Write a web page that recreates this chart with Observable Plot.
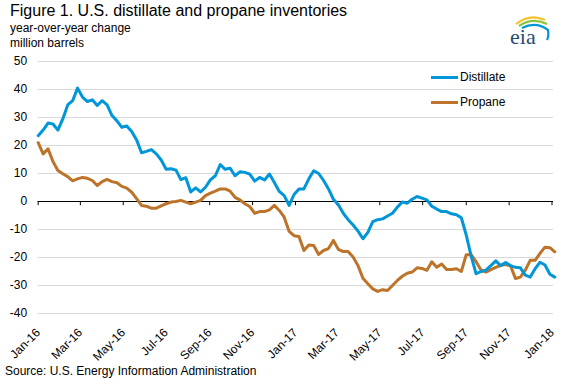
<!DOCTYPE html>
<html>
<head>
<meta charset="utf-8">
<script src="https://cdn.jsdelivr.net/npm/d3@7"></script>
<script src="https://cdn.jsdelivr.net/npm/@observablehq/plot@0.6"></script>
<style>
  html, body { margin: 0; padding: 0; background: #fff; }
  #wrap { position: relative; width: 577px; height: 379px; font-family: "Liberation Sans", Arial, sans-serif; color: #000; overflow: hidden; }
  #chart { position: absolute; left: 0; top: 0; }
  .t { position: absolute; white-space: nowrap; line-height: 1; }
  .sw { position: absolute; height: 3px; }
</style>
</head>
<body>
<div id="wrap">
  <div id="chart"></div>
  <div class="t" style="left:10px; top:2.5px; font-size:16px;">Figure 1. U.S. distillate and propane inventories</div>
  <div class="t" style="left:10px; top:22px; font-size:12px;">year-over-year change</div>
  <div class="t" style="left:10px; top:36.5px; font-size:12px;">million barrels</div>
  <div class="sw" style="left:431px; top:76px; width:27px; background:#0096D7;"></div>
  <div class="t" style="left:460px; top:71px; font-size:12px;">Distillate</div>
  <div class="sw" style="left:431px; top:101px; width:27px; background:#BD732A;"></div>
  <div class="t" style="left:460px; top:96px; font-size:12px;">Propane</div>
  <div class="t" style="left:5px; top:365px; font-size:12px;">Source: U.S. Energy Information Administration</div>
  <svg style="position:absolute; left:502px; top:8px;" width="50" height="40" viewBox="0 0 50 40">
    <path d="M14 16 Q28 5 43 12" fill="none" stroke="#F2C230" stroke-width="2.2"/>
    <path d="M17 18 Q30 9 45 16" fill="none" stroke="#8CC63F" stroke-width="2.2"/>
    <path d="M20 20 Q34 13 46 22 Q47 28 45 32" fill="none" stroke="#0096D7" stroke-width="2.2"/>
    <text x="8" y="36" font-family="Liberation Serif, 'DejaVu Serif', serif" font-size="22" fill="#1F4E79">eia</text>
  </svg>
</div>
<script>
// ---- data ----
const seriesStart = "2016-01-01"; // first weekly observation (week ending Friday)
const distillate = [
  23.5, 25.5, 28, 27.7, 25.5, 29.5, 34.5, 36, 40.5, 37.3,
  35.7, 36.3, 34.3, 36, 34.5, 30.7, 28.8, 26.5, 27, 25,
  22, 17.4, 17.9, 18.5, 17, 14.8, 11.5, 11.7, 11.2, 7.8,
  8.5, 3.4, 4.9, 3.4, 5.1, 7.7, 9.2, 13.2, 11.5, 11.9,
  9.2, 10.6, 10.4, 9.8, 7.3, 8.6, 7.7, 9.8, 6.8, 3.6,
  2.1, -1.4, 2.5, 4.5, 4.5, 8.1, 11, 10, 7.5, 4.5,
  0.8, -1.2, -4.2, -6.5, -8.4, -10.6, -13.3, -11, -7.2, -6.5,
  -6.2, -5.2, -4.2, -2, -0.2, -0.6, 0.8, 1.8, 1.2, 0.6,
  -1.7, -2.7, -3.6, -3.6, -4.4, -4.7, -5.8, -12, -19.5, -25.8,
  -25, -24.5, -22.9, -21.2, -22.9, -21.8, -22.9, -23.5, -23.7, -26.3,
  -27, -24, -21.7, -22.7, -26, -27
];
const propane = [
  21, 17, 18.8, 14.3, 11.1, 9.9, 8.9, 7.4, 8.1, 8.6,
  8.3, 7.5, 5.7, 7.1, 7.9, 7.1, 6.7, 5.4, 4.8, 3.3,
  1, -1.4, -1.7, -2.4, -2.4, -1.6, -0.8, -0.2, 0, 0.4,
  -0.2, -0.8, -0.2, 0.4, 2.1, 3, 3.7, 4.5, 4.5, 3.7,
  1.5, 0.6, -0.8, -1.8, -4.2, -3.6, -3.6, -3.0, -1.4, -3.2,
  -5.6, -10.7, -12.2, -12.5, -17.5, -15.5, -15.7, -18.9, -17.5, -16.8,
  -13.9, -17.1, -17.9, -17.9, -19.8, -22.9, -27.4, -29.4, -31.2, -32.1,
  -31.5, -31.8, -30, -28.2, -26.7, -25.6, -25.2, -23.7, -23.9, -24.6,
  -21.5, -23.5, -22.3, -24.3, -24.3, -24, -25, -19, -19, -21.5,
  -24.5, -25.2, -24.3, -23.5, -22.8, -22.5, -23, -27.5, -27, -24.5,
  -21, -21, -18.5, -16.3, -16.5, -18
];
const xTickLabels = ["Jan-16","Mar-16","May-16","Jul-16","Sep-16","Nov-16","Jan-17","Mar-17","May-17","Jul-17","Sep-17","Nov-17","Jan-18"];
const yTicks = [-40, -30, -20, -10, 0, 10, 20, 30, 40, 50];

// ---- build tables ----
const t0 = new Date(seriesStart + "T00:00:00Z");
const rows = distillate.map((v, i) => ({date: d3.utcDay.offset(t0, 7 * i), distillate: v, propane: propane[i]}));
const tickDates = xTickLabels.map((_, i) => d3.utcMonth.offset(t0, 2 * i));
const labelOf = new Map(tickDates.map((d, i) => [+d, xTickLabels[i]]));

const chart = Plot.plot({
  width: 577,
  height: 379,
  marginLeft: 37.7,
  marginRight: 25.5,
  marginTop: 61,
  marginBottom: 66,
  x: {type: "utc", domain: [tickDates[0], tickDates[tickDates.length - 1]]},
  y: {domain: [-40, 50]},
  style: {fontFamily: "'Liberation Sans', Arial, sans-serif", fontSize: "12px", color: "#000", background: "transparent", overflow: "visible"},
  marks: [
    Plot.ruleY(yTicks.filter(d => d !== 0), {stroke: "#d9d9d9", strokeWidth: 1, insetRight: -1.5}),
    Plot.axisY({ticks: yTicks, tickSize: 0, tickPadding: 11, tickFormat: d => String(d), label: null, fontSize: 12}),
    Plot.axisX({ticks: tickDates, tickSize: 0, tickPadding: 17, tickRotate: -45, tickFormat: d => labelOf.get(+d), label: null, fontSize: 12}),
    Plot.ruleY([0], {stroke: "#000", strokeWidth: 1, insetRight: -1.5}),
    Plot.ruleX(tickDates, {x: d => d, y1: 0, y2: -1.5, stroke: "#000", strokeWidth: 1}),
    Plot.line(rows, {x: "date", y: "propane", stroke: "#BD732A", strokeWidth: 3}),
    Plot.line(rows, {x: "date", y: "distillate", stroke: "#0096D7", strokeWidth: 3})
  ]
});
document.getElementById("chart").appendChild(chart);
</script>
</body>
</html>
